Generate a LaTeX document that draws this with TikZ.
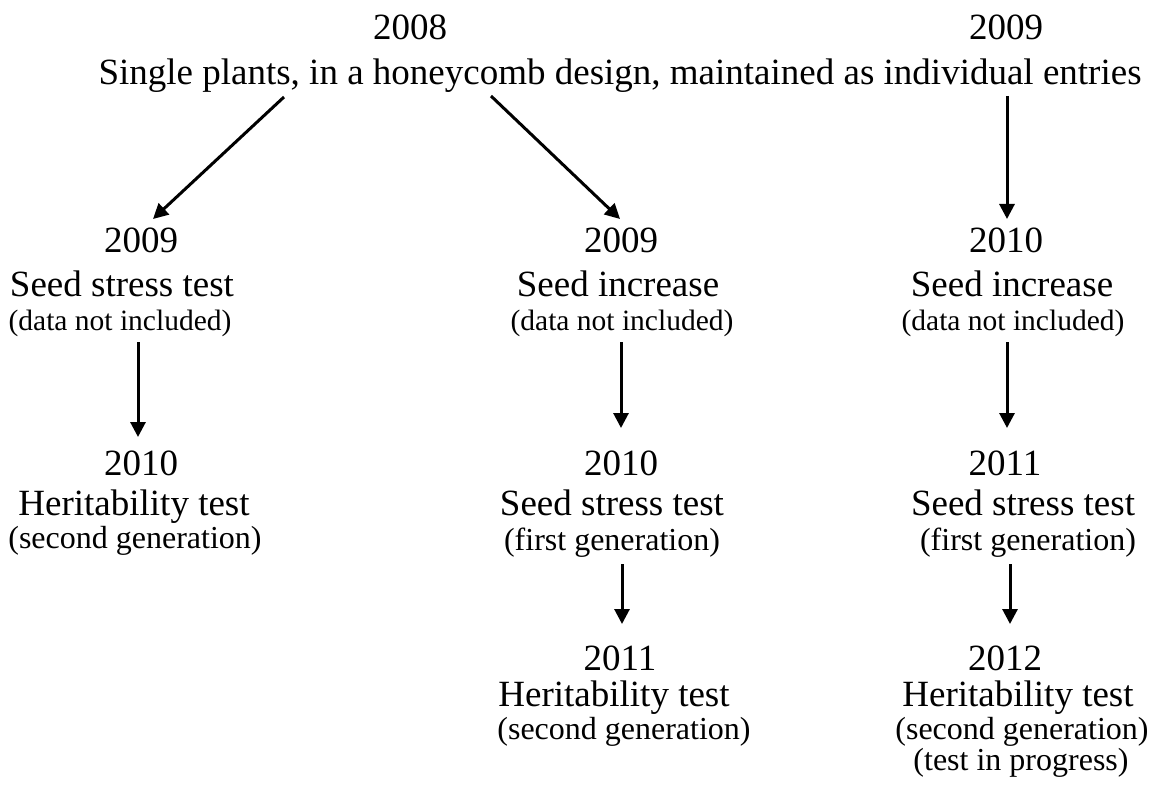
\documentclass[tikz,border=0pt]{standalone}
\usepackage{fontspec}
\setmainfont{Liberation Serif}
\usetikzlibrary{arrows.meta}
\begin{document}
\begin{tikzpicture}[x=1pt,y=-1pt,
  bigtxt/.style={font=\fontsize{37}{40}\selectfont, anchor=base, inner sep=0pt},
  datatxt/.style={font=\fontsize{29.5}{32}\selectfont, anchor=base, inner sep=0pt},
  gentxt/.style={font=\fontsize{32}{34}\selectfont, anchor=base, inner sep=0pt},
  arr/.style={line width=3pt, -{Triangle[length=15pt,width=15pt]}}]
\useasboundingbox (0,0) rectangle (1156,794);
% top
\node[bigtxt] (y2008) at (410,40) {2008};
\node[bigtxt] (y2009top) at (1006,40) {2009};
\node[bigtxt] (main) at (620,85) {Single plants, in a honeycomb design, maintained as individual entries};
% column 1
\node[bigtxt] (c1a) at (141,253) {2009};
\node[bigtxt] (c1b) at (122,296) {Seed stress test};
\node[datatxt] (c1c) at (120,330) {(data not included)};
\node[bigtxt] (c1d) at (141,475) {2010};
\node[bigtxt] (c1e) at (134,515) {Heritability test};
\node[gentxt] (c1f) at (135,548) {(second generation)};
% column 2
\node[bigtxt] (c2a) at (621,253) {2009};
\node[bigtxt] (c2b) at (618,296) {Seed increase};
\node[datatxt] (c2c) at (622,330) {(data not included)};
\node[bigtxt] (c2d) at (621,475) {2010};
\node[bigtxt] (c2e) at (612,515) {Seed stress test};
\node[gentxt] (c2f) at (612,550) {(first generation)};
\node[bigtxt] (c2g) at (620,670) {2011};
\node[bigtxt] (c2h) at (614,706) {Heritability test};
\node[gentxt] (c2i) at (624,739) {(second generation)};
% column 3
\node[bigtxt] (c3a) at (1006,253) {2010};
\node[bigtxt] (c3b) at (1012,296) {Seed increase};
\node[datatxt] (c3c) at (1013,330) {(data not included)};
\node[bigtxt] (c3d) at (1005,475) {2011};
\node[bigtxt] (c3e) at (1023,515) {Seed stress test};
\node[gentxt] (c3f) at (1028,550) {(first generation)};
\node[bigtxt] (c3g) at (1005,670) {2012};
\node[bigtxt] (c3h) at (1018,706) {Heritability test};
\node[gentxt] (c3i) at (1022,739) {(second generation)};
\node[gentxt] (c3j) at (1021,770) {(test in progress)};
% arrow end points
\coordinate (a1s) at (284,97);  \coordinate (a1e) at (153,219);
\coordinate (a2s) at (491,96);  \coordinate (a2e) at (620,219);
\coordinate (a3s) at (1007,96); \coordinate (a3e) at (1007,219);
\coordinate (b1s) at (138,342); \coordinate (b1e) at (138,437);
\coordinate (b2s) at (621,342); \coordinate (b2e) at (621,428);
\coordinate (b3s) at (1007,342);\coordinate (b3e) at (1007,428);
\coordinate (d2s) at (622,564); \coordinate (d2e) at (622,624);
\coordinate (d3s) at (1010,564);\coordinate (d3e) at (1010,624);
\draw[arr] (a1s) -- (a1e);
\draw[arr] (a2s) -- (a2e);
\draw[arr] (a3s) -- (a3e);
\draw[arr] (b1s) -- (b1e);
\draw[arr] (b2s) -- (b2e);
\draw[arr] (b3s) -- (b3e);
\draw[arr] (d2s) -- (d2e);
\draw[arr] (d3s) -- (d3e);
\end{tikzpicture}
\end{document}
